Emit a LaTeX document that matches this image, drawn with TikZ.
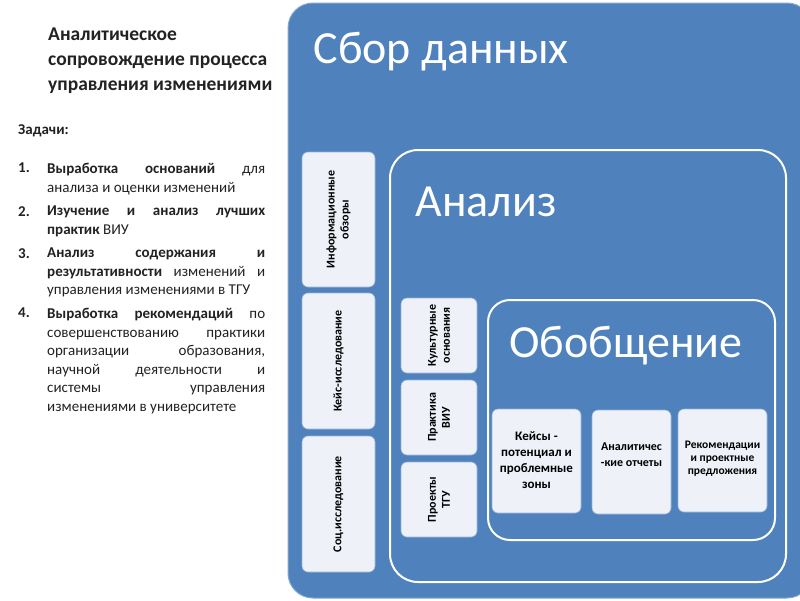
\documentclass[tikz,border=0pt]{standalone}
\usepackage{fontspec}
\setmainfont{Carlito}
\definecolor{bl}{HTML}{4F81BD}
\definecolor{bx}{HTML}{EEF2F8}
\definecolor{tx}{HTML}{222222}
\begin{document}
\begin{tikzpicture}[x=1pt,y=-1pt,
  wb/.style={fill=bx,rounded corners=6pt,draw=bl!60!white,line width=0.6pt},
  vt/.style={rotate=90,font=\bfseries\fontsize{12}{14}\selectfont,align=center,text=black},
  ht/.style={font=\bfseries\fontsize{13}{16}\selectfont,align=center,text=black},
  it/.style={anchor=north west,text width=218pt,align=justify,font=\fontsize{15}{18.5}\selectfont,text=tx,inner sep=0pt},
  nm/.style={anchor=north west,font=\bfseries\fontsize{15}{18.5}\selectfont,text=tx,inner sep=0pt}]
\useasboundingbox (0,0) rectangle (800,600);
\fill[white] (0,0) rectangle (800,600);
% left text
\node[anchor=north west,inner sep=0pt,align=left,font=\bfseries\fontsize{19.5}{25}\selectfont,text=tx] (title) at (48,28)
 {Аналитическое\\сопровождение процесса\\управления изменениями};
\node[nm] (z) at (18,124) {Задачи:};
\node[nm] (n1) at (18,163) {1.};
\node[it] (t1) at (47,163) {\textbf{Выработка оснований} для\linebreak анализа и оценки изменений};
\node[nm] (n2) at (18,206) {2.};
\node[it] (t2) at (47,206) {\textbf{Изучение и анализ лучших\linebreak практик} ВИУ};
\node[nm] (n3) at (18,248) {3.};
\node[it] (t3) at (47,248) {\textbf{Анализ содержания и\linebreak результативности} изменений и\linebreak управления изменениями в ТГУ};
\node[nm] (n4) at (18,308) {4.};
\node[it] (t4) at (47,308) {\textbf{Выработка рекомендаций} по\linebreak совершенствованию практики\linebreak организации образования,\linebreak научной деятельности и\linebreak системы управления\linebreak изменениями в университете};
% big box
\draw[fill=bl,draw=bl!70!white,rounded corners=25pt,line width=1pt] (288,3) rectangle (812,598);
\node[anchor=west,text=white,font=\fontsize{46}{48}\selectfont] (sb) at (310,52) {Сбор данных};
\draw[white,line width=2pt,rounded corners=28pt] (390,150) rectangle (786,582);
\node[anchor=west,text=white,font=\fontsize{46}{48}\selectfont] (an) at (412,202) {Анализ};
\draw[white,line width=2pt,rounded corners=22pt] (488,300) rectangle (775,540);
\node[anchor=west,text=white,font=\fontsize{46}{48}\selectfont] (ob) at (506,346) {Обобщение};
% left boxes
\draw[wb] (302,152) rectangle (375,287);
\node[vt] (a1) at (338.5,219.5) {Информационные\\обзоры};
\draw[wb] (302,293) rectangle (375,429);
\node[vt] (a2) at (338.5,361) {Кейс-исследование};
\draw[wb] (302,436) rectangle (375,572);
\node[vt] (a3) at (338.5,504) {Соц.исследование};
% middle boxes
\draw[wb] (401,298) rectangle (477,373);
\node[vt] (b1) at (439,335.5) {Культурные\\основания};
\draw[wb] (401,380) rectangle (477,455);
\node[vt] (b2) at (439,417.5) {Практика\\ВИУ};
\draw[wb] (401,462) rectangle (477,537);
\node[vt] (b3) at (439,499.5) {Проекты\\ТГУ};
% bottom boxes
\draw[wb] (492,409) rectangle (581,513);
\node[ht,font=\bfseries\fontsize{13}{16}\selectfont] (c1) at (536.5,460) {Кейсы -\\потенциал и\\проблемные\\зоны};
\draw[wb] (592,410) rectangle (671,514);
\node[ht,font=\bfseries\fontsize{12}{16}\selectfont] (c2) at (631.5,455) {Аналитичес\\-кие отчеты};
\draw[wb] (678,409) rectangle (767,512);
\node[ht,font=\bfseries\fontsize{11.5}{13}\selectfont] (c3) at (722.5,459) {Рекомендации\\и проектные\\предложения};
\end{tikzpicture}
\end{document}
